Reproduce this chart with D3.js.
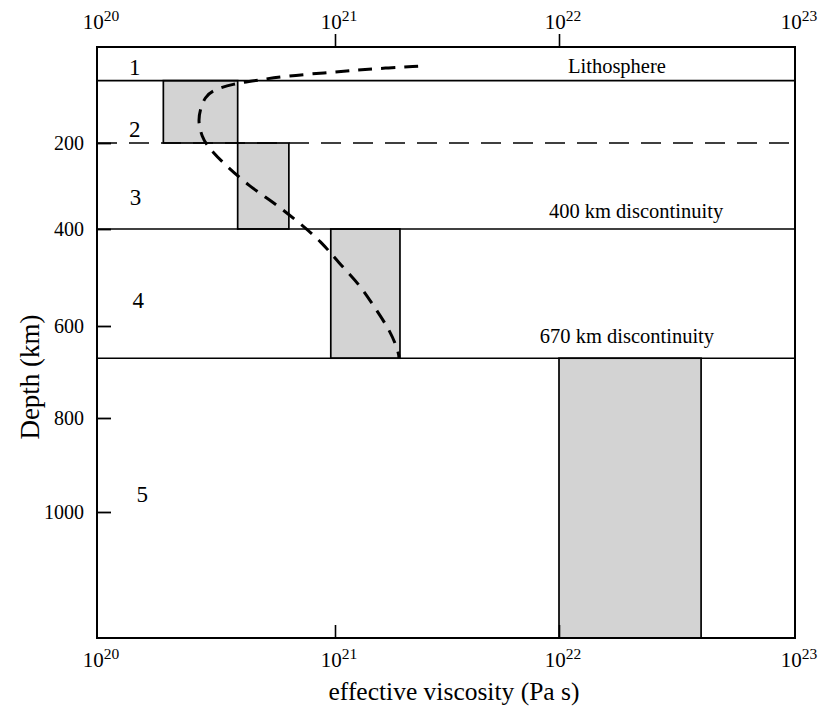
<!DOCTYPE html>
<html lang="en">
<head>
  <meta charset="UTF-8">
  <title>Effective viscosity vs depth</title>
  <style>
    body {
      margin: 0;
      background: #fff;
    }
    svg text {
      font-family: 'Liberation Serif', 'Times New Roman', serif;
      fill: #000;
    }
  </style>
</head>
<body>
  <svg id="chart" width="819" height="718" font-family="Liberation Serif"></svg>

  <script src="https://d3js.org/d3.v7.min.js"></script>
  <script>
    // layer boundaries (km) and what line each one gets
    const boundaryDepths = [70, 200, 400, 670];
    const boundaryStyles = ['solid', 'dashed', 'solid', 'solid'];

    // viscosity ranges (Pa s) for the shaded boxes, one per layer
    const boxTop = [70, 200, 400, 670];
    const boxBottom = [200, 400, 670, 1270];
    const boxLow = [1.9e20, 3.9e20, 9.6e20, 1.0e22];
    const boxHigh = [3.9e20, 6.4e20, 1.95e21, 4.0e22];

    // layer numbers and where they sit (depth, viscosity)
    const layerNames = ['1', '2', '3', '4', '5'];
    const layerDepth = [58, 187, 344, 563, 979];
    const layerVisc = [1.44e20, 1.44e20, 1.45e20, 1.49e20, 1.55e20];

    // the dashed model profile, top to bottom
    const profileVisc = [2.35e21, 1.67e21, 1.23e21, 9.1e20, 6.3e20, 4.75e20, 3.7e20, 3.07e20,
      2.84e20, 2.71e20, 2.66e20, 2.76e20, 2.9e20, 3.07e20, 3.38e20, 4.39e20, 5.48e20,
      6.92e20, 8.81e20, 1.03e21, 1.29e21, 1.48e21, 1.78e21, 1.93e21, 1.93e21];
    const profileDepth = [40, 44, 48, 54, 60, 69, 77, 90,
      104, 131, 156, 187, 205, 221, 246, 302, 337,
      381, 427, 468, 515, 557, 613, 660, 670];

    // axis ticks
    const xTickValues = [1e20, 1e21, 1e22, 1e23];
    const xTickExps = ['20', '21', '22', '23'];
    const yTickValues = [200, 400, 600, 800, 1000];

    const svg = d3.select('#chart');

    const plotLeft = 97, plotRight = 795, plotTop = 47, plotBottom = 638;

    // the scanned figure has slightly uneven decades, so map them piecewise
    const x = d3.scaleLog()
      .domain([1e20, 1e21, 1e22, 1e23])
      .range([plotLeft, 335, 559, plotRight]);

    const y = d3.scaleLinear()
      .domain([0, 200, 400, 600, 800, 1000, 1270])
      .range([plotTop, 143, 229, 326, 418, 512, plotBottom]);

    // shaded boxes
    svg.selectAll('.box')
      .data(boxTop)
      .enter().append('rect')
      .attr('class', 'box')
      .attr('x', (d, i) => x(boxLow[i]))
      .attr('y', d => y(d))
      .attr('width', (d, i) => x(boxHigh[i]) - x(boxLow[i]))
      .attr('height', (d, i) => y(boxBottom[i]) - y(d))
      .attr('fill', '#d3d3d3')
      .attr('stroke', '#000')
      .attr('stroke-width', 1.7);

    // layer boundary lines
    svg.selectAll('.boundary')
      .data(boundaryDepths)
      .enter().append('line')
      .attr('class', 'boundary')
      .attr('x1', plotLeft)
      .attr('x2', plotRight)
      .attr('y1', d => y(d))
      .attr('y2', d => y(d))
      .attr('stroke', '#000')
      .attr('stroke-width', 1.6)
      .attr('stroke-dasharray', (d, i) => boundaryStyles[i] === 'dashed' ? '20,12' : null);

    // frame
    svg.append('rect')
      .attr('x', plotLeft)
      .attr('y', plotTop)
      .attr('width', plotRight - plotLeft)
      .attr('height', plotBottom - plotTop)
      .attr('fill', 'none')
      .attr('stroke', '#000')
      .attr('stroke-width', 2);

    // left axis, ticks point inward
    const yAxis = svg.append('g')
      .attr('transform', `translate(${plotLeft},0)`)
      .call(d3.axisLeft(y).tickValues(yTickValues).tickFormat(d3.format('d'))
        .tickSize(-14).tickPadding(13));
    yAxis.attr('font-family', 'Liberation Serif').attr('font-size', 20);
    yAxis.select('.domain').remove();
    yAxis.selectAll('line').attr('stroke-width', 1.8);

    // top axis, ticks point outward
    const topAxis = svg.append('g')
      .attr('transform', `translate(0,${plotTop})`)
      .call(d3.axisTop(x).tickValues(xTickValues).tickSize(13).tickFormat(''));
    topAxis.select('.domain').remove();
    topAxis.selectAll('line')
      .attr('stroke-width', 1.6)
      .attr('y2', d => (d === 1e20 || d === 1e23) ? 0 : -13);

    // bottom axis, ticks point inward
    const botAxis = svg.append('g')
      .attr('transform', `translate(0,${plotBottom})`)
      .call(d3.axisBottom(x).tickValues(xTickValues).tickSize(-13).tickFormat(''));
    botAxis.select('.domain').remove();
    botAxis.selectAll('line')
      .attr('stroke-width', 1.6)
      .attr('y2', d => (d === 1e20 || d === 1e23) ? 0 : -13);

    // power-of-ten labels, top and bottom
    function powerLabels(yBase) {
      const t = svg.selectAll(null)
        .data(xTickValues)
        .enter().append('text')
        .attr('x', d => x(d) + 4)
        .attr('y', yBase)
        .attr('text-anchor', 'middle')
        .attr('font-family', 'Liberation Serif')
        .attr('font-size', 21);
      t.append('tspan').text('10');
      t.append('tspan')
        .attr('dy', -8)
        .attr('font-size', 15.5)
        .text((d, i) => xTickExps[i]);
    }
    powerLabels(29);
    powerLabels(667);

    // dashed model profile
    const line = d3.line()
      .x((d, i) => x(profileVisc[i]))
      .y(d => y(d))
      .curve(d3.curveBasis);

    svg.append('path')
      .datum(profileDepth)
      .attr('d', line)
      .attr('fill', 'none')
      .attr('stroke', '#000')
      .attr('stroke-width', 3)
      .attr('stroke-dasharray', '14,9');

    // layer numbers
    svg.selectAll('.layer')
      .data(layerNames)
      .enter().append('text')
      .attr('class', 'layer')
      .attr('x', (d, i) => x(layerVisc[i]))
      .attr('y', (d, i) => y(layerDepth[i]))
      .attr('text-anchor', 'middle')
      .attr('font-family', 'Liberation Serif')
      .attr('font-size', 23)
      .text(d => d);

    // annotations
    const notes = svg.append('g')
      .attr('font-family', 'Liberation Serif')
      .attr('font-size', 20.5)
      .attr('text-anchor', 'middle');
    notes.append('text')
      .attr('x', x(1.76e22)).attr('y', 73)
      .text('Lithosphere');
    notes.append('text')
      .attr('x', x(2.12e22)).attr('y', 218)
      .text('400 km discontinuity');
    notes.append('text')
      .attr('x', x(1.94e22)).attr('y', 343)
      .text('670 km discontinuity');

    // axis titles
    svg.append('text')
      .attr('x', 454)
      .attr('y', 700)
      .attr('text-anchor', 'middle')
      .attr('font-family', 'Liberation Serif')
      .attr('font-size', 25.5)
      .text('effective viscosity (Pa s)');

    svg.append('text')
      .attr('transform', `translate(39,${(312 + 442) / 2}) rotate(-90)`)
      .attr('text-anchor', 'middle')
      .attr('font-family', 'Liberation Serif')
      .attr('font-size', 27)
      .text('Depth (km)');
  </script>
</body>
</html>
